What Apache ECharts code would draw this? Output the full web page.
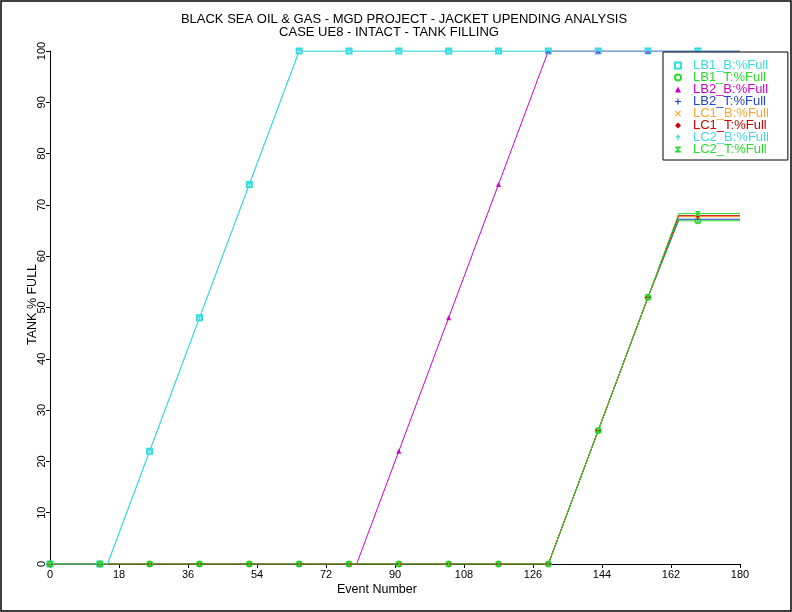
<!DOCTYPE html>
<html>
<head>
<meta charset="utf-8">
<script src="https://cdn.jsdelivr.net/npm/echarts@6/dist/echarts.min.js"></script>
<style>html,body{margin:0;padding:0;background:#fff}#c{width:792px;height:612px}</style>
</head>
<body>
<div id="c"></div>
<script>
// ---- data ----
const events = [0,13,15,26,39,52,65,78,80,91,104,117,130,143,156,164,169,180];
const lb1B = [0,0,0,22,48,74,100,100,100,100,100,100,100,100,100,100,100,100];
const lb1T = [0,0,0,0,0,0,0,0,0,0,0,0,0,26,52,66.9,66.9,66.9];
const lb2B = [0,0,0,0,0,0,0,0,0,22,48,74,100,100,100,100,100,100];
const lb2T = [0,0,0,0,0,0,0,0,0,0,0,0,0,26,52,67.2,67.2,67.2];
const lc1B = [0,0,0,0,0,0,0,0,0,0,0,0,0,26,52,67.7,67.7,67.7];
const lc1T = [0,0,0,0,0,0,0,0,0,0,0,0,0,26,52,67.9,67.9,67.9];
const lc2B = [0,0,0,22,48,74,100,100,100,100,100,100,100,100,100,100,100,100];
const lc2T = [0,0,0,0,0,0,0,0,0,0,0,0,0,26,52,68.3,68.3,68.3];
const seriesNames = ['LB1_B:%Full','LB1_T:%Full','LB2_B:%Full','LB2_T:%Full','LC1_B:%Full','LC1_T:%Full','LC2_B:%Full','LC2_T:%Full'];
const seriesValues = [lb1B, lb1T, lb2B, lb2T, lc1B, lc1T, lc2B, lc2T];
const xTicks = {min:0, max:180, interval:18};
const yTicks = {min:0, max:100, interval:10};
const markerStep = 13;

// ---- styles ----
const colors = ['#33dede','#2bdc2b','#cc00cc','#2244cc','#ffa533','#cc0000','#44d8e8','#2bdc2b'];
const symbols = [
  'emptyRect',
  'emptyCircle',
  'triangle',
  'path://M4,0H6V4H10V6H6V10H4V6H0V4H4Z',
  'path://M0,1.4L1.4,0L5,3.6L8.6,0L10,1.4L6.4,5L10,8.6L8.6,10L5,6.4L1.4,10L0,8.6L3.6,5Z',
  'diamond',
  'path://M5,0L10,5H6V10H4V5H0Z',
  'path://M0,0H10V1.6L5.8,5L10,8.4V10H0V8.4L4.2,5L0,1.6Z'
];
const FONT = 'Liberation Sans, Arial, sans-serif';

const series = seriesNames.map((n, k) => ({
  name: n,
  type: 'line',
  showAllSymbol: true,
  symbolSize: 5,
  animation: false,
  color: colors[k],
  lineStyle: {width: 1, color: colors[k]},
  itemStyle: {color: colors[k]},
  data: events.map((e, i) => ({
    value: [e, seriesValues[k][i]],
    symbol: e % markerStep === 0 ? symbols[k] : 'none'
  }))
}));

const chart = echarts.init(document.getElementById('c'), null, {renderer: 'canvas'});
chart.setOption({
  backgroundColor: '#fff',
  animation: false,
  title: [
    {text: 'BLACK SEA OIL & GAS - MGD PROJECT - JACKET UPENDING ANALYSIS', left: 404, top: 13, textAlign: 'center',
     textStyle: {fontSize: 13, fontWeight: 'normal', color: '#000', fontFamily: FONT}, padding: 0},
    {text: 'CASE UE8 - INTACT - TANK FILLING', left: 389, top: 26, textAlign: 'center',
     textStyle: {fontSize: 13, fontWeight: 'normal', color: '#000', fontFamily: FONT}, padding: 0}
  ],
  grid: {left: 50, right: 52, top: 51, bottom: 48, containLabel: false},
  xAxis: {
    type: 'value', min: xTicks.min, max: xTicks.max, interval: xTicks.interval,
    axisLine: {show: true, onZero: false, lineStyle: {color: '#000', width: 1}},
    axisTick: {show: true, length: 4, lineStyle: {color: '#000'}},
    axisLabel: {color: '#000', fontSize: 11, fontFamily: FONT, margin: 5},
    splitLine: {show: false}
  },
  yAxis: {
    type: 'value', min: yTicks.min, max: yTicks.max, interval: yTicks.interval,
    axisLine: {show: true, onZero: false, lineStyle: {color: '#000', width: 1}},
    axisTick: {show: true, length: 4, lineStyle: {color: '#000'}},
    axisLabel: {color: '#000', fontSize: 11, fontFamily: FONT, rotate: 90, margin: 3},
    splitLine: {show: false}
  },
  legend: {
    orient: 'vertical', left: 663, top: 52,
    backgroundColor: '#fff', borderColor: '#000', borderWidth: 1,
    padding: [7, 19, 4, 11],
    itemWidth: 6, itemHeight: 6, itemGap: -1,
    selectedMode: false,
    textStyle: {fontSize: 13, fontFamily: FONT, lineHeight: 11, padding: [0, 0, 0, 7]},
    data: seriesNames.map((n, k) => ({name: n, icon: symbols[k], itemStyle: {color: colors[k]}, textStyle: {color: colors[k]}}))
  },
  graphic: [
    {type: 'text', left: 337, top: 583, style: {text: 'Event Number', font: '12.5px ' + FONT, fill: '#000'}},
    {type: 'text', x: 26, y: 345, rotation: Math.PI / 2, style: {text: 'TANK % FULL', font: '12.5px ' + FONT, fill: '#000'}},
    {type: 'rect', shape: {x: 1, y: 1, width: 790, height: 610}, style: {fill: 'none', stroke: '#000', lineWidth: 1.5}, silent: true}
  ],
  series: series
});
</script>
</body>
</html>
